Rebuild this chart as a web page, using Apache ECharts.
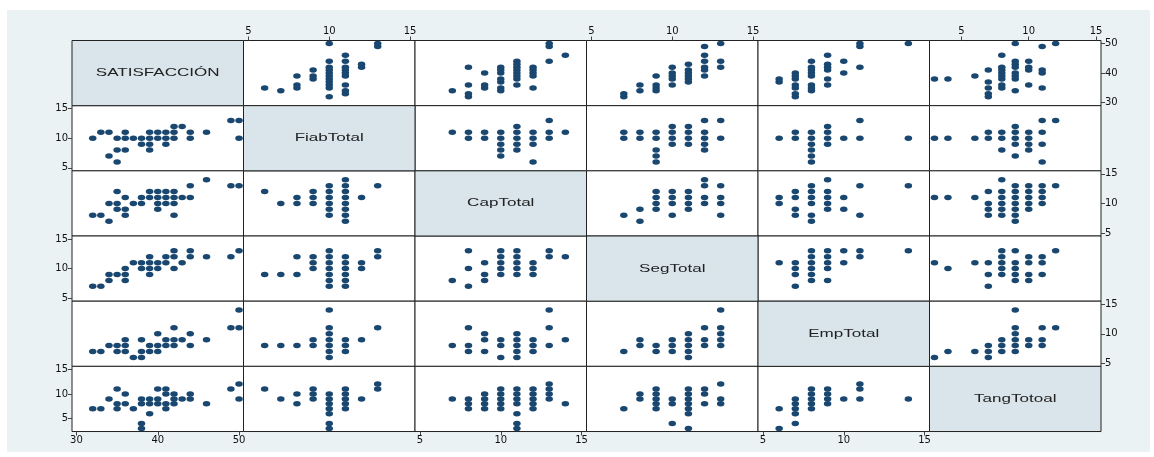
<!DOCTYPE html>
<html>
<head>
<meta charset="utf-8">
<script src="https://cdn.jsdelivr.net/npm/echarts@6/dist/echarts.min.js"></script>
<style>
  body { margin: 0; background: #fff; }
  #bg { position: absolute; left: 7px; top: 10px; width: 1143px; height: 442px; background: #eaf2f3; }
  #chart { position: absolute; left: 0; top: 0; width: 1154px; height: 457px; }
</style>
</head>
<body>
<div id="bg"></div>
<div id="chart"></div>
<script>
  // variables of the matrix, in order
  const varNames = ['SATISFACCIÓN', 'FiabTotal', 'CapTotal', 'SegTotal', 'EmpTotal', 'TangTotoal'];
  const satTicks = [30, 40, 50];
  const scoreTicks = [5, 10, 15];

  // pairs [x, y] : x = column variable, y = row variable (lower triangle)
  const satFiab = [[33,11],[34,11],[36,11],[39,11],[40,11],[41,11],[42,11],[44,11],[46,11],
    [32,10],[35,10],[36,10],[37,10],[38,10],[39,10],[40,10],[41,10],[42,10],[44,10],[50,10],
    [42,12],[43,12],[49,13],[50,13],[38,9],[39,9],[41,9],[35,8],[36,8],[39,8],[34,7],[35,6]];
  const satCap = [[46,14],[44,13],[49,13],[50,13],[35,12],[39,12],[40,12],[41,12],[42,12],
    [36,11],[38,11],[39,11],[40,11],[41,11],[42,11],[43,11],[44,11],
    [34,10],[35,10],[37,10],[38,10],[40,10],[41,10],[42,10],[35,9],[36,9],[40,9],
    [32,8],[33,8],[36,8],[42,8],[34,7]];
  const fiabCap = [[6,12],[7,10],[8,11],[8,10],[9,12],[9,11],[9,10],
    [10,13],[10,12],[10,11],[10,10],[10,9],[10,8],
    [11,14],[11,13],[11,12],[11,11],[11,10],[11,9],[11,8],[11,7],[12,11],[13,13]];
  const satSeg = [[42,13],[44,13],[50,13],[39,12],[41,12],[42,12],[44,12],[46,12],[49,12],
    [37,11],[38,11],[39,11],[40,11],[41,11],[43,11],[36,10],[38,10],[39,10],[40,10],[42,10],
    [34,9],[35,9],[36,9],[39,9],[34,8],[36,8],[32,7],[33,7]];
  const fiabSeg = [[6,9],[7,9],[8,12],[8,9],[9,12],[9,11],[9,10],
    [10,13],[10,12],[10,11],[10,10],[10,9],[10,8],[10,7],
    [11,12],[11,11],[11,10],[11,9],[11,8],[11,7],[12,11],[12,10],[13,13],[13,12]];
  const capSeg = [[7,8],[8,13],[8,10],[8,7],[9,11],[9,9],[9,8],
    [10,13],[10,12],[10,11],[10,10],[10,9],[11,13],[11,12],[11,11],[11,10],[11,9],
    [12,11],[12,10],[12,9],[13,13],[13,12],[14,12]];
  const satEmp = [[50,14],[42,11],[49,11],[50,11],[40,10],[44,10],
    [36,9],[38,9],[41,9],[42,9],[43,9],[46,9],
    [34,8],[35,8],[36,8],[39,8],[40,8],[41,8],[42,8],[44,8],
    [32,7],[33,7],[35,7],[36,7],[38,7],[39,7],[40,7],[37,6],[38,6]];
  const fiabEmp = [[6,8],[7,8],[8,8],[9,9],[9,8],
    [10,14],[10,11],[10,10],[10,9],[10,8],[10,7],[10,6],[11,9],[11,8],[11,7],[12,9],[13,11]];
  const capEmp = [[7,8],[8,11],[8,8],[8,7],[9,10],[9,9],[9,7],[10,9],[10,8],[10,6],
    [11,10],[11,9],[11,8],[11,7],[11,6],[12,9],[12,8],[12,7],[13,14],[13,11],[13,8],[14,9]];
  const segEmp = [[7,7],[8,9],[8,8],[9,8],[9,7],[10,9],[10,8],[10,7],
    [11,10],[11,9],[11,8],[11,7],[11,6],[12,11],[12,9],[12,8],[13,14],[13,11],[13,10],[13,9],[13,8]];
  const satTang = [[50,12],[35,11],[40,11],[41,11],[49,11],[36,10],[41,10],[42,10],[44,10],
    [34,9],[38,9],[39,9],[40,9],[42,9],[43,9],[44,9],[50,9],
    [35,8],[36,8],[38,8],[39,8],[40,8],[41,8],[42,8],[46,8],
    [32,7],[33,7],[35,7],[37,7],[41,7],[39,6],[38,4],[38,3]];
  const fiabTang = [[6,11],[7,9],[8,10],[8,8],[9,11],[9,10],[9,9],
    [10,10],[10,9],[10,8],[10,7],[10,6],[10,4],[10,3],
    [11,11],[11,10],[11,9],[11,8],[11,7],[12,9],[13,12],[13,11]];
  const capTang = [[7,9],[8,9],[8,8],[8,7],[9,10],[9,9],[9,8],[9,7],
    [10,11],[10,10],[10,9],[10,8],[10,7],[11,11],[11,10],[11,9],[11,8],[11,6],[11,4],[11,3],
    [12,11],[12,10],[12,9],[12,8],[12,7],[13,12],[13,11],[13,10],[13,9],[14,8]];
  const segTang = [[7,7],[8,10],[8,9],[9,11],[9,10],[9,9],[9,8],[9,7],
    [10,9],[10,8],[10,4],[11,11],[11,10],[11,9],[11,8],[11,7],[11,6],[11,3],
    [12,11],[12,10],[12,8],[13,12],[13,9],[13,8]];
  const empTang = [[6,7],[6,3],[7,9],[7,8],[7,7],[7,6],[7,4],
    [8,11],[8,10],[8,9],[8,8],[8,7],[9,11],[9,10],[9,9],[9,8],[10,9],
    [11,12],[11,11],[11,9],[14,9]];

  // lower[row][col]
  const lower = {
    1: {0: satFiab},
    2: {0: satCap, 1: fiabCap},
    3: {0: satSeg, 1: fiabSeg, 2: capSeg},
    4: {0: satEmp, 1: fiabEmp, 2: capEmp, 3: segEmp},
    5: {0: satTang, 1: fiabTang, 2: capTang, 3: segTang, 4: empTang}
  };

  // axis extents (Stata pads the range a little)
  const xExt = [[29.45, 50.55], [4.69, 15.31], [4.69, 15.31], [4.69, 15.31], [4.69, 15.31], [2.63, 15.37]];
  const yExt = [[29, 51], [4.5, 15.5], [4.5, 15.5], [4.5, 15.5], [4.5, 15.5], [2.4, 15.6]];

  const left0 = 72, top0 = 40.5, cellW = 171.5, cellH = 65.17;
  const navy = '#1a476f';
  const labelFont = { fontSize: 10, fontFamily: 'DejaVu Sans', color: '#111' };

  const grids = [], xAxes = [], yAxes = [], series = [], graphics = [];

  function hidden() {
    return { axisLabel: { show: false }, axisTick: { show: false }, axisLine: { show: false }, splitLine: { show: false } };
  }

  for (let i = 0; i < 6; i++) {
    for (let j = 0; j < 6; j++) {
      const left = left0 + j * cellW, top = top0 + i * cellH;
      if (i === j) {
        graphics.push({
          type: 'rect', shape: { x: left, y: top, width: cellW, height: cellH },
          style: { fill: '#d9e5eb', stroke: '#222', lineWidth: 1 }
        });
        graphics.push({
          type: 'text', x: left + cellW / 2, y: top + cellH / 2, scaleX: 1.55,
          style: { text: varNames[i], fill: '#222', font: '11px "Liberation Sans"', align: 'center', verticalAlign: 'middle' }
        });
        continue;
      }
      const idx = grids.length;
      grids.push({ left: left, top: top, width: cellW, height: cellH, show: true,
        backgroundColor: '#fff', borderColor: '#222', borderWidth: 1 });

      const xTicks = j === 0 ? satTicks : scoreTicks;
      const yTicks = i === 0 ? satTicks : scoreTicks;
      const showX = (j % 2 === 0 && i === 5) || (j % 2 === 1 && i === 0);
      const showY = (i % 2 === 0 && j === 5) || (i % 2 === 1 && j === 0);

      let xa = Object.assign({ gridIndex: idx, type: 'value', min: xExt[j][0], max: xExt[j][1],
        position: j % 2 === 0 ? 'bottom' : 'top' }, hidden());
      if (showX) {
        xa.axisTick = { show: true, length: 4, customValues: xTicks, lineStyle: { color: '#444' } };
        xa.axisLabel = Object.assign({ show: true, margin: 4, customValues: xTicks }, labelFont);
      }
      let ya = Object.assign({ gridIndex: idx, type: 'value', min: yExt[i][0], max: yExt[i][1],
        position: i % 2 === 0 ? 'right' : 'left' }, hidden());
      if (showY) {
        ya.axisTick = { show: true, length: 4, customValues: yTicks, lineStyle: { color: '#444' } };
        ya.axisLabel = Object.assign({ show: true, margin: 4, customValues: yTicks }, labelFont);
      }
      xAxes.push(xa);
      yAxes.push(ya);

      let pts;
      if (i > j) pts = lower[i][j];
      else pts = lower[j][i].map(p => [p[1], p[0]]);

      series.push({
        type: 'scatter', xAxisIndex: idx, yAxisIndex: idx, data: pts,
        symbol: 'circle', symbolSize: [7.5, 5.5], silent: true,
        itemStyle: { color: navy, opacity: 1 }
      });
    }
  }

  const myChart = echarts.init(document.getElementById('chart'));
  myChart.setOption({
    animation: false,
    backgroundColor: 'transparent',
    grid: grids,
    xAxis: xAxes,
    yAxis: yAxes,
    series: series,
    graphic: graphics
  });
</script>
</body>
</html>
